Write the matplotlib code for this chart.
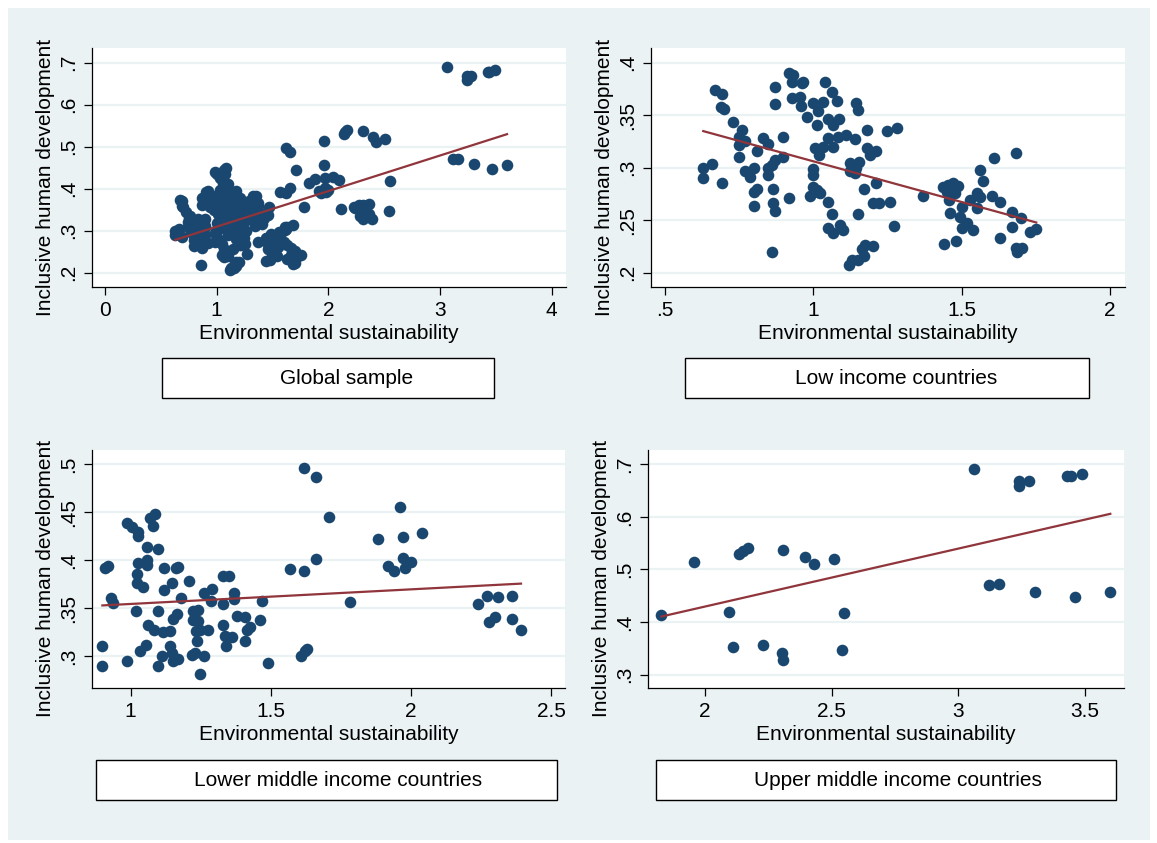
import numpy as np
import matplotlib
matplotlib.use("Agg")
import matplotlib.pyplot as plt
from matplotlib.patches import Rectangle
from matplotlib.ticker import FixedLocator, FuncFormatter

plt.rcParams["font.family"] = ["Liberation Sans", "DejaVu Sans"]

BG = "#EAF2F3"
DOT = "#1A476F"
FIT = "#90353B"

# Low income countries
low_x = [0.629, 0.629, 0.660, 0.691, 0.669, 0.691, 0.688, 0.699, 0.730, 0.758,
         0.751, 0.770, 0.748, 0.748, 0.770, 0.787, 0.800, 0.800, 0.809, 0.800,
         0.809, 0.829, 0.848, 0.848, 0.848, 0.860, 0.871, 0.899, 0.899, 0.863,
         0.863, 0.871, 0.862, 0.919, 0.870, 0.870, 0.919, 0.930, 0.927, 0.961,
         0.927, 0.955, 0.966, 0.957, 0.978, 1.000, 1.017, 1.031, 1.011, 1.039,
         1.062, 1.079, 1.051, 1.065, 1.088, 1.048, 1.034, 1.067, 1.006, 1.020,
         0.998, 0.998, 1.000, 1.017, 0.989, 1.048, 1.062, 1.048, 1.067, 1.090,
         1.101, 1.084, 1.110, 1.140, 1.143, 1.149, 1.124, 1.144, 1.155, 1.124,
         1.140, 1.180, 1.180, 1.191, 1.211, 1.169, 1.211, 1.149, 1.200, 1.222,
         1.258, 1.247, 1.281, 1.273, 1.121, 1.129, 1.152, 1.163, 1.174, 1.200,
         1.169, 1.369, 1.011, 1.022,
         1.438, 1.455, 1.472, 1.489, 1.467, 1.450, 1.478, 1.458, 1.500, 1.461,
         1.494, 1.500, 1.539, 1.517, 1.440, 1.481, 1.528, 1.551, 1.562, 1.551,
         1.561, 1.571, 1.601, 1.629, 1.610, 1.683, 1.669, 1.700, 1.669, 1.629,
         1.682, 1.702, 1.685, 1.729, 1.751]
low_y = [0.300, 0.2905, 0.3035, 0.2857, 0.374, 0.370, 0.358, 0.356, 0.344, 0.336,
         0.3295, 0.3257, 0.3216, 0.310, 0.297, 0.2914, 0.300, 0.2771, 0.2794, 0.2635,
         0.316, 0.328, 0.3225, 0.2994, 0.293, 0.3025, 0.307, 0.310, 0.329, 0.2797,
         0.266, 0.259, 0.2194, 0.2708, 0.377, 0.361, 0.3905, 0.388, 0.382, 0.381,
         0.366, 0.3676, 0.382, 0.359, 0.3486, 0.3613, 0.3543, 0.3629, 0.3406, 0.382,
         0.3724, 0.3635, 0.346, 0.3406, 0.346, 0.328, 0.320, 0.320, 0.3184, 0.312,
         0.2984, 0.293, 0.2819, 0.2771, 0.2733, 0.2676, 0.2559, 0.2422, 0.2375, 0.2454,
         0.2406, 0.3295, 0.331, 0.327, 0.3613, 0.355, 0.3041, 0.2994, 0.3057, 0.297,
         0.2946, 0.3359, 0.3184, 0.312, 0.3162, 0.2794, 0.285, 0.2559, 0.266, 0.266,
         0.2676, 0.3352, 0.3375, 0.2448, 0.2073, 0.2121, 0.2121, 0.2222, 0.2263, 0.2254,
         0.2159, 0.273, 0.2787, 0.2762,
         0.2819, 0.2835, 0.2851, 0.2829, 0.2787, 0.2771, 0.2756, 0.2692, 0.2629, 0.2565,
         0.2533, 0.2422, 0.2406, 0.2470, 0.2273, 0.2302, 0.2692, 0.2756, 0.2724, 0.2613,
         0.2978, 0.2876, 0.273, 0.267, 0.3092, 0.3137, 0.2581, 0.2518, 0.2432, 0.233,
         0.2232, 0.2232, 0.220, 0.239, 0.2416]

# Lower middle income countries
lmid_x = [0.899, 0.899, 0.908, 0.920, 0.929, 0.938, 0.988, 0.988, 1.004, 1.027,
          1.027, 1.069, 1.087, 1.079, 1.060, 1.099, 1.027, 1.060, 1.060, 1.021,
          1.021, 1.045, 1.119, 1.162, 1.170, 1.119, 1.149, 1.208, 1.179, 1.019,
          1.099, 1.150, 1.167, 1.062, 1.082, 1.117, 1.140, 1.035, 1.055, 1.140,
          1.146, 1.111, 1.150, 1.170, 1.099, 1.248, 1.224, 1.242, 1.224, 1.242,
          1.233, 1.248, 1.277, 1.236, 1.230, 1.260, 1.218, 1.260, 1.290, 1.285,
          1.329, 1.352, 1.329, 1.369, 1.369, 1.329, 1.337, 1.361, 1.340, 1.379,
          1.408, 1.415, 1.427, 1.463, 1.408, 1.468, 1.489, 1.569, 1.620, 1.620,
          1.661, 1.708, 1.661, 1.608, 1.623, 1.631, 1.781, 1.881, 1.960, 1.971,
          2.039, 1.920, 1.938, 1.971, 2.000, 1.979, 2.239, 2.271, 2.310, 2.361,
          2.280, 2.299, 2.361, 2.393]
lmid_y = [0.311, 0.2896, 0.3919, 0.3946, 0.3607, 0.3555, 0.2955, 0.4386, 0.4345, 0.430,
          0.4258, 0.4445, 0.4484, 0.4359, 0.4144, 0.4116, 0.3977, 0.4005, 0.3953, 0.3856,
          0.3763, 0.3718, 0.3919, 0.3925, 0.3936, 0.3693, 0.3763, 0.3787, 0.3613, 0.3468,
          0.3468, 0.3392, 0.3444, 0.3329, 0.3277, 0.3253, 0.3267, 0.3059, 0.3114, 0.3104,
          0.3035, 0.300, 0.2948, 0.2972, 0.2903, 0.2816, 0.3468, 0.3485, 0.3381, 0.3364,
          0.326, 0.3277, 0.327, 0.3156, 0.3035, 0.300, 0.3017, 0.3659, 0.370, 0.3572,
          0.3832, 0.3832, 0.3544, 0.3659, 0.3596, 0.3329, 0.3208, 0.3201, 0.3104, 0.3416,
          0.3406, 0.327, 0.3305, 0.3374, 0.3156, 0.3572, 0.2931, 0.3915, 0.3894, 0.4965,
          0.4872, 0.4456, 0.4012, 0.3007, 0.3052, 0.308, 0.3565, 0.422, 0.4553, 0.4248,
          0.4283, 0.3946, 0.3894, 0.4023, 0.3981, 0.3919, 0.3544, 0.3624, 0.3617, 0.3631,
          0.3353, 0.3406, 0.3392, 0.327]

# Upper middle income countries
umid_x = [1.829, 1.958, 2.096, 2.111, 2.136, 2.151, 2.171, 2.228, 2.303, 2.309,
          2.308, 2.397, 2.430, 2.509, 2.541, 2.550, 3.061, 3.120, 3.162, 3.239,
          3.241, 3.278, 3.301, 3.429, 3.443, 3.462, 3.489, 3.600]
umid_y = [0.414, 0.5146, 0.420, 0.3525, 0.530, 0.535, 0.540, 0.356, 0.341, 0.328,
          0.537, 0.523, 0.511, 0.519, 0.346, 0.418, 0.6905, 0.470, 0.4715, 0.668,
          0.658, 0.668, 0.458, 0.6785, 0.677, 0.447, 0.682, 0.457]

captions = ["Global sample", "Low income countries",
            "Lower middle income countries", "Upper middle income countries"]
x_ticks = [[0, 1, 2, 3, 4], [0.5, 1, 1.5, 2], [1, 1.5, 2, 2.5], [2, 2.5, 3, 3.5]]
y_ticks = [[0.2, 0.3, 0.4, 0.5, 0.6, 0.7], [0.2, 0.25, 0.3, 0.35, 0.4],
           [0.3, 0.35, 0.4, 0.45, 0.5], [0.3, 0.4, 0.5, 0.6, 0.7]]

W, H = 1157, 843


def px_rect(x0, y0, x1, y1):
    """pixel box (top-left origin) -> figure fraction [l, b, w, h]"""
    return [x0 / W, 1 - y1 / H, (x1 - x0) / W, (y1 - y0) / H]


def stata_fmt(v, _pos=None):
    s = f"{v:g}"
    if s.startswith("0."):
        s = s[1:]
    return s


def draw_panel(fig, rect, xs, ys, xlim, ylim, xt, yt):
    ax = fig.add_axes(rect, zorder=2)
    ax.set_facecolor("white")
    ax.set_xlim(*xlim)
    ax.set_ylim(*ylim)
    for s in ["top", "right"]:
        ax.spines[s].set_visible(False)
    for s in ["left", "bottom"]:
        ax.spines[s].set_linewidth(0.9)
    ax.xaxis.set_major_locator(FixedLocator(xt))
    ax.yaxis.set_major_locator(FixedLocator(yt))
    ax.xaxis.set_major_formatter(FuncFormatter(stata_fmt))
    ax.yaxis.set_major_formatter(FuncFormatter(stata_fmt))
    ax.tick_params(length=6, width=0.9, labelsize=15, pad=4)
    ax.tick_params(axis="y", labelrotation=90)
    for lab in ax.get_yticklabels():
        lab.set_va("center")
    ax.grid(axis="y", color=BG, linewidth=1.6)
    ax.set_axisbelow(True)

    xs = np.asarray(xs)
    ys = np.asarray(ys)
    ax.scatter(xs, ys, s=70, color=DOT, linewidths=0, zorder=2)
    b, a = np.polyfit(xs, ys, 1)
    fx = np.array([xs.min(), xs.max()])
    ax.plot(fx, a + b * fx, color=FIT, linewidth=1.6, zorder=3)

    ax.set_xlabel("Environmental sustainability", fontsize=15)
    ax.set_ylabel("Inclusive human development", fontsize=15)
    ax.xaxis.set_label_coords(0.5, -0.155)
    ax.yaxis.set_label_coords(-0.078, 0.46)
    ax.xaxis.label.set_va("top")
    return ax


def main():
    fig = plt.figure(figsize=(W / 100, H / 100), dpi=100)
    fig.patch.set_facecolor("white")
    fig.patches.append(Rectangle((8 / W, 1 - 840 / H), 1142 / W, 832 / H,
                                 transform=fig.transFigure, facecolor=BG,
                                 edgecolor="none", zorder=-10))

    glob_x = low_x + lmid_x + umid_x
    glob_y = low_y + lmid_y + umid_y

    panels = [
        (px_rect(92, 48, 566, 287), glob_x, glob_y, (-0.116, 4.128), (0.166, 0.735)),
        (px_rect(651, 48, 1125, 287), low_x, low_y, (0.453, 2.05), (0.1864, 0.414)),
        (px_rect(92, 450, 565, 688), lmid_x, lmid_y, (0.862, 2.55), (0.267, 0.515)),
        (px_rect(648, 450, 1124, 688), umid_x, umid_y, (1.776, 3.654), (0.2747, 0.727)),
    ]
    for i, (rect, xs, ys, xl, yl) in enumerate(panels):
        draw_panel(fig, rect, xs, ys, xl, yl, x_ticks[i], y_ticks[i])

    # caption boxes (x0, y0, x1, y1, text centre x)
    boxes = [(162, 358, 494, 398, 347), (685, 358, 1089, 398, 896),
             (96, 760, 557, 800, 338), (656, 760, 1116, 800, 898)]
    for (x0, y0, x1, y1, tx), cap in zip(boxes, captions):
        fig.patches.append(Rectangle((x0 / W, 1 - y1 / H), (x1 - x0) / W, (y1 - y0) / H,
                                     transform=fig.transFigure, facecolor="white",
                                     edgecolor="black", linewidth=1.0, zorder=1))
        fig.text(tx / W, 1 - (y0 + y1) / 2 / H, cap, fontsize=15,
                 ha="center", va="center")

    fig.savefig("out.png", dpi=100)
    plt.close(fig)


if __name__ == "__main__":
    main()
